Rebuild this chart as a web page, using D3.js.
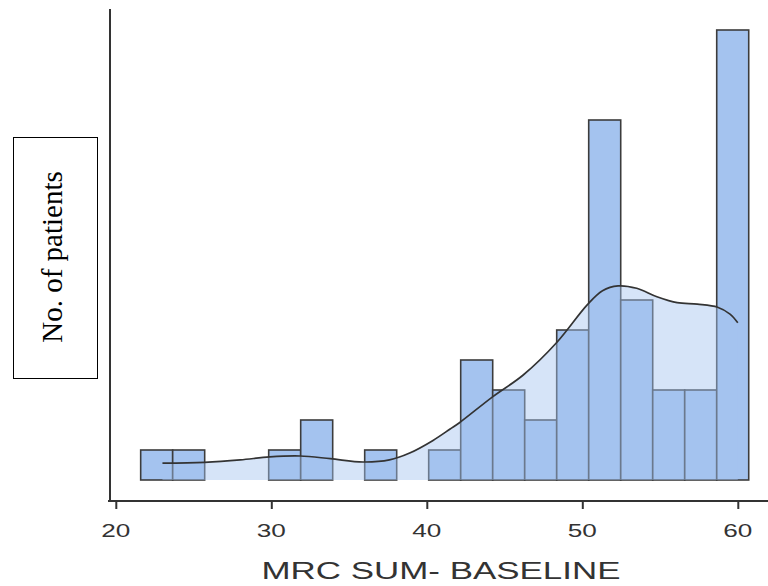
<!DOCTYPE html>
<html>
<head>
<meta charset="utf-8">
<script src="https://cdn.jsdelivr.net/npm/d3@7/dist/d3.min.js"></script>
<style>
  html, body { margin: 0; padding: 0; background: #fff; }
  svg { display: block; }
</style>
</head>
<body>
<svg id="chart" width="768" height="586"></svg>
<script>
// Histogram of MRC sum score at baseline (bin lower edges and patient counts)
const binStart = 21.6;
const binWidth = 2.058;
const counts = [1, 1, 0, 0, 1, 2, 0, 1, 0, 1, 4, 3, 2, 5, 12, 6, 3, 3, 15];

// Smoothed density curve, expressed in patient-count units
const kdeX = [23.0, 25.7, 28.0, 29.9, 31.85, 33.8, 35.9, 37.6, 38.9, 40.4, 41.5, 42.1, 44.25, 46.2, 48.4, 50.3, 51.3, 52.3, 53.5, 54.8, 56.1, 57.4, 58.7, 59.5, 60.0];
const kdeY = [0.56, 0.59, 0.67, 0.77, 0.80, 0.71, 0.60, 0.67, 0.90, 1.32, 1.70, 1.91, 2.78, 3.50, 4.61, 5.83, 6.31, 6.47, 6.39, 6.11, 5.91, 5.86, 5.76, 5.53, 5.24];

const xTicks = [20, 30, 40, 50, 60];
const xTitle = "MRC SUM- BASELINE";
const yTitle = "No. of patients";

const svg = d3.select("#chart");

const x = d3.scaleLinear().domain([20, 60]).range([115.8, 737.8]);
const y = d3.scaleLinear().domain([0, 16]).range([480, 0]);

const barColor = "#a4c3ef";
const edgeColor = "#3c3c3c";
const sansFont = "'Liberation Sans', Arial, Helvetica, sans-serif";
const textStretch = 1.4;

const bins = counts.map((c, i) => ({ x0: binStart + i * binWidth, x1: binStart + (i + 1) * binWidth, n: c }));

// bars
svg.append("g")
  .selectAll("rect")
  .data(bins.filter(d => d.n > 0))
  .join("rect")
  .attr("x", d => x(d.x0))
  .attr("y", d => y(d.n))
  .attr("width", d => x(d.x1) - x(d.x0))
  .attr("height", d => y(0) - y(d.n))
  .attr("fill", barColor)
  .attr("stroke", edgeColor)
  .attr("stroke-width", 1.6);

// density area laid over the bars
const pts = kdeX.map((v, i) => [v, kdeY[i]]);
svg.append("path")
  .datum(pts)
  .attr("d", d3.area()
    .x(d => x(d[0]))
    .y0(y(0))
    .y1(d => y(d[1]))
    .curve(d3.curveCatmullRom))
  .attr("fill", barColor)
  .attr("fill-opacity", 0.45);

svg.append("path")
  .datum(pts)
  .attr("d", d3.line()
    .x(d => x(d[0]))
    .y(d => y(d[1]))
    .curve(d3.curveCatmullRom))
  .attr("fill", "none")
  .attr("stroke", "#333")
  .attr("stroke-width", 1.7);

// y axis line (no ticks)
svg.append("line")
  .attr("x1", 110).attr("x2", 110)
  .attr("y1", 9).attr("y2", 502)
  .attr("stroke", "#333").attr("stroke-width", 2);

// x axis: line and tick marks from d3.axisBottom, labels drawn wide
const xAxis = d3.axisBottom(x)
  .tickValues(xTicks)
  .tickSize(8)
  .tickFormat("")
  .tickSizeOuter(0);

const gx = svg.append("g")
  .attr("transform", "translate(0,501)")
  .call(xAxis);
gx.select(".domain").remove();
gx.append("line")
  .attr("x1", 108).attr("x2", 768)
  .attr("stroke", "#333").attr("stroke-width", 2);
gx.selectAll(".tick line").attr("stroke", "#333").attr("stroke-width", 2);

svg.append("g")
  .selectAll("text")
  .data(xTicks)
  .join("text")
  .attr("transform", d => `translate(${x(d)},536.5) scale(${textStretch},1)`)
  .attr("text-anchor", "middle")
  .attr("fill", "#333")
  .style("font-family", sansFont)
  .style("font-size", "18.7px")
  .text(d => d);

svg.append("text")
  .attr("transform", `translate(441,579.3) scale(${textStretch + 0.02},1)`)
  .attr("text-anchor", "middle")
  .attr("fill", "#333")
  .style("font-family", sansFont)
  .style("font-size", "24.6px")
  .text(xTitle);

// boxed y title
svg.append("rect")
  .attr("x", 13.5).attr("y", 137.5)
  .attr("width", 84).attr("height", 241)
  .attr("fill", "#fff")
  .attr("stroke", "#000")
  .attr("stroke-width", 1);

svg.append("text")
  .attr("transform", "translate(62,257) rotate(-90)")
  .attr("text-anchor", "middle")
  .attr("fill", "#000")
  .style("font-family", "'Liberation Serif', 'Times New Roman', serif")
  .style("font-size", "29px")
  .text(yTitle);
</script>
</body>
</html>
